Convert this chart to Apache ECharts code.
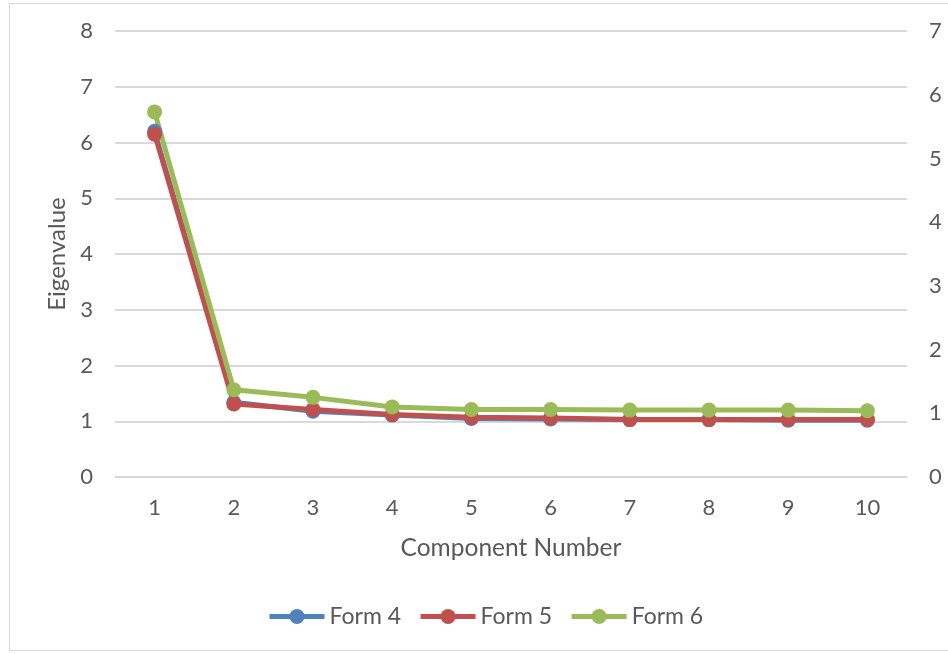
<!DOCTYPE html>
<html><head><meta charset="utf-8">
<script src="https://cdn.jsdelivr.net/npm/echarts@6/dist/echarts.min.js"></script>
<style>html,body{margin:0;padding:0;background:#fff}
#frame{position:absolute;left:9px;top:3px;width:960px;height:648px;border:1px solid #d9d9d9;box-sizing:border-box}
#c{position:absolute;left:0;top:0;width:948px;height:654px}</style>
</head><body><div id="frame"></div><div id="c"></div>
<script>
const categories = ['1','2','3','4','5','6','7','8','9','10'];
const form4 = [6.20, 1.34, 1.18, 1.11, 1.05, 1.04, 1.03, 1.03, 1.02, 1.02];
const form5 = [6.15, 1.31, 1.21, 1.12, 1.07, 1.06, 1.03, 1.03, 1.03, 1.03];
const form6 = [5.73, 1.37, 1.25, 1.10, 1.06, 1.06, 1.05, 1.05, 1.05, 1.04];
const font = 'Lato, "Open Sans", "Noto Sans", sans-serif';
const chart = echarts.init(document.getElementById('c'));
const mk = (name, data, color, yi) => ({
  name, type: 'line', data, yAxisIndex: yi, symbol: 'circle', symbolSize: 15,
  lineStyle: {width: 5, color}, itemStyle: {color}, animation: false
});
chart.setOption({
  animation: false,
  grid: {left: 115, right: 41, top: 31, bottom: 177},
  xAxis: {
    type: 'category', data: categories, boundaryGap: true,
    axisLine: {lineStyle: {color: '#d9d9d9', width: 1}}, axisTick: {show: false},
    axisLabel: {color: '#595959', fontSize: 22, fontFamily: font, margin: 20},
    name: 'Component Number', nameLocation: 'middle', nameGap: 59,
    nameTextStyle: {color: '#595959', fontSize: 24.5, fontFamily: font}
  },
  yAxis: [{
    type: 'value', min: 0, max: 8, interval: 1,
    axisLine: {show: false}, axisTick: {show: false},
    splitLine: {lineStyle: {color: '#d9d9d9', width: 2}},
    axisLabel: {color: '#595959', fontSize: 22, fontFamily: font, margin: 22},
    name: 'Eigenvalue', nameLocation: 'middle', nameGap: 44, nameRotate: 90,
    nameTextStyle: {color: '#595959', fontSize: 24, fontFamily: font}
  }, {
    type: 'value', min: 0, max: 7, interval: 1, position: 'right',
    axisLine: {show: false}, axisTick: {show: false}, splitLine: {show: false},
    axisLabel: {color: '#595959', fontSize: 22, fontFamily: font, margin: 22}
  }],
  legend: {
    top: 600, left: 262, itemWidth: 55, itemHeight: 19, itemGap: 17,
    lineStyle: {width: 5},
    textStyle: {color: '#595959', fontSize: 23, fontFamily: font},
    data: ['Form 4', 'Form 5', 'Form 6']
  },
  series: [
    mk('Form 4', form4, '#4f81bd', 0),
    mk('Form 5', form5, '#c0504d', 0),
    mk('Form 6', form6, '#9bbb59', 1)
  ]
});
</script></body></html>
